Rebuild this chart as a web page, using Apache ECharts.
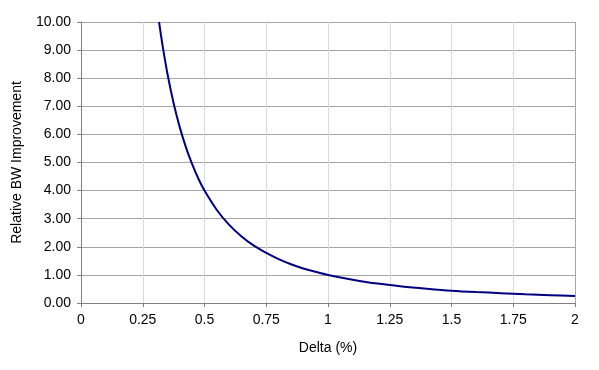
<!DOCTYPE html>
<html><head><meta charset="utf-8">
<script src="https://cdn.jsdelivr.net/npm/echarts@6/dist/echarts.min.js"></script>
<style>html,body{margin:0;padding:0;background:#fff}#c{width:599px;height:370px}</style>
</head><body><div id="c"></div>
<script>
const deltaValues = [0.316,0.33,0.35,0.375,0.4,0.425,0.45,0.475,0.5,0.55,0.6,0.65,0.7,0.75,0.8,0.85,0.9,0.95,1.0,1.1,1.2,1.3,1.4,1.5,1.6,1.7,1.8,1.9,2.0];
const bwImprovement = [10.00,9.18,8.16,7.11,6.25,5.54,4.94,4.43,4.00,3.31,2.78,2.37,2.04,1.78,1.56,1.38,1.23,1.11,1.00,0.83,0.69,0.59,0.51,0.44,0.39,0.35,0.31,0.28,0.25];
const xTicks = [0,0.25,0.5,0.75,1,1.25,1.5,1.75,2];
const xName = 'Delta (%)';
const yName = 'Relative BW Improvement';

const chart = echarts.init(document.getElementById('c'));
const font = 'Liberation Sans, Arial, sans-serif';
chart.setOption({
  animation: false,
  grid: {left: 81, right: 24, top: 22, bottom: 67, show: false},
  xAxis: {
    type: 'value', min: 0, max: 2, interval: 0.25,
    name: xName, nameLocation: 'middle', nameGap: 38,
    nameTextStyle: {color: '#000', fontFamily: font, fontSize: 14},
    axisLine: {show: true, onZero: false, lineStyle: {color: '#808080', width: 1}},
    axisTick: {show: true, length: 4, lineStyle: {color: '#808080'}},
    axisLabel: {color: '#000', fontFamily: font, fontSize: 14, margin: 10,
      formatter: v => String(xTicks.find(t => Math.abs(t - v) < 1e-9) ?? v)},
    splitLine: {show: true, lineStyle: {color: '#d9d9d9', width: 1}}
  },
  yAxis: {
    type: 'value', min: 0, max: 10, interval: 1,
    name: yName, nameLocation: 'middle', nameGap: 57,
    nameTextStyle: {color: '#000', fontFamily: font, fontSize: 14},
    axisLine: {show: true, lineStyle: {color: '#808080', width: 1}},
    axisTick: {show: true, length: 4, lineStyle: {color: '#808080'}},
    axisLabel: {color: '#000', fontFamily: font, fontSize: 14, margin: 10,
      formatter: v => v.toFixed(2)},
    splitLine: {show: true, lineStyle: {color: '#a6a6a6', width: 1}}
  },
  series: [{
    type: 'line',
    data: deltaValues.map((x, i) => [x, bwImprovement[i]]),
    smooth: 0.3, showSymbol: false,
    lineStyle: {color: '#000080', width: 2},
    markLine: {silent: true, symbol: 'none', label: {show: false},
      lineStyle: {color: '#a6a6a6', type: 'solid', width: 1},
      data: [{xAxis: 2}]}
  }]
});
</script></body></html>
